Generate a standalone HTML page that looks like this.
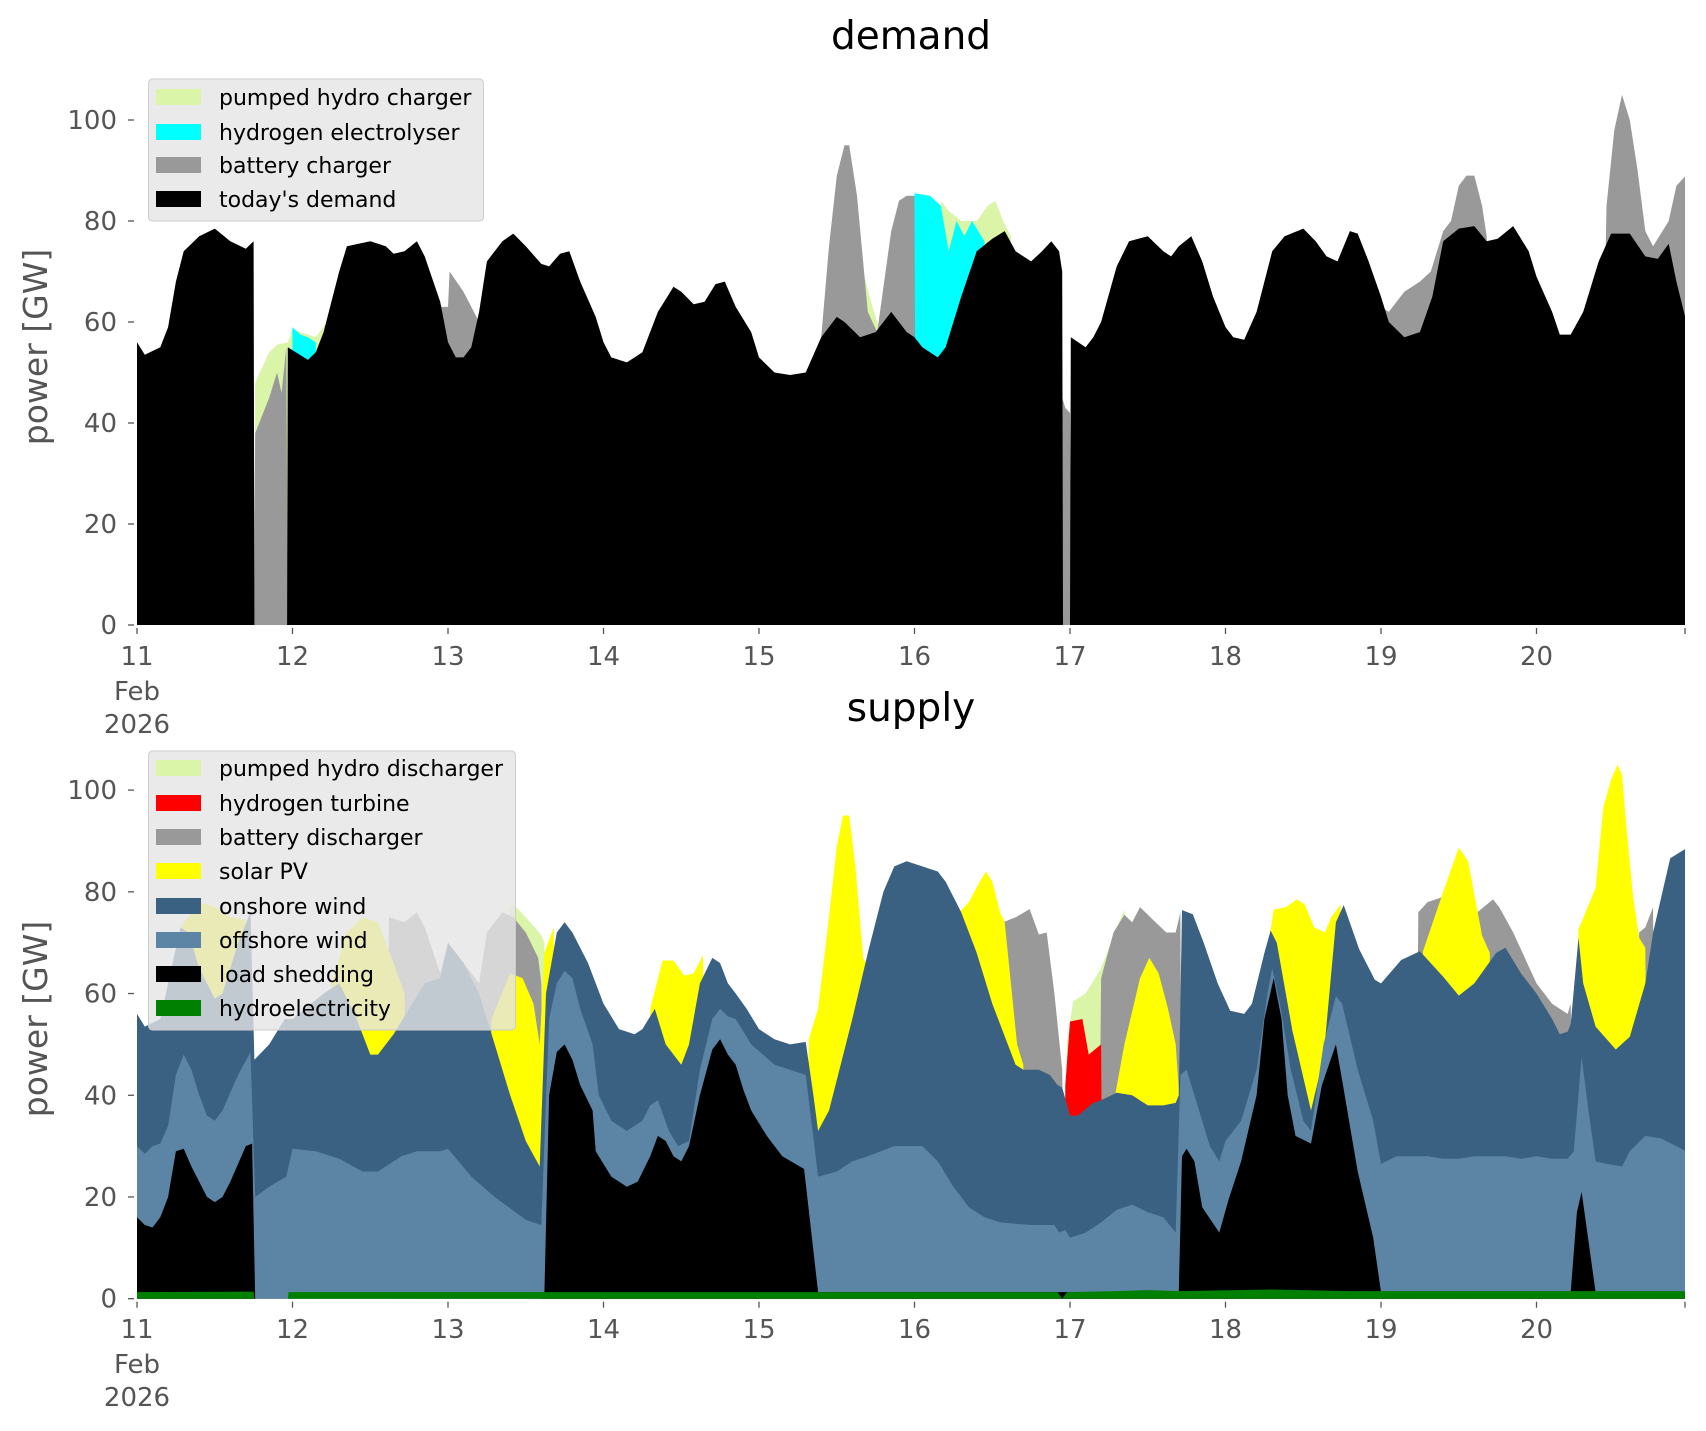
<!DOCTYPE html>
<html><head><meta charset="utf-8"><style>
html,body{margin:0;padding:0;background:#fff;}
svg{display:block;font-family:"DejaVu Sans","Liberation Sans",sans-serif;}
</style></head><body>
<svg id="s" width="1706" height="1431" viewBox="0 0 1706 1431" xmlns="http://www.w3.org/2000/svg">
<defs>
<clipPath id="c1"><rect x="137" y="60" width="1548" height="565.5"/></clipPath>
<clipPath id="c2"><rect x="137" y="730" width="1548" height="569"/></clipPath>
</defs>
<g id="top" clip-path="url(#c1)"></g>
<g id="bot" clip-path="url(#c2)"></g>
<g id="axes" fill="#555" font-size="26"></g>
<text x="911" y="49" font-size="39" text-anchor="middle" fill="#000">demand</text>
<text x="911" y="721" font-size="39" text-anchor="middle" fill="#000">supply</text>
<text transform="translate(47,347) rotate(-90)" font-size="33" text-anchor="middle" fill="#555">power [GW]</text>
<text transform="translate(47,1019) rotate(-90)" font-size="33" text-anchor="middle" fill="#555">power [GW]</text>
<g font-size="22" fill="#000">
<rect x="148.5" y="79" width="335" height="142" rx="4" fill="#e5e5e5" fill-opacity="0.8" stroke="#cccccc"/>
<rect x="156" y="89" width="45" height="16" fill="#daf5a8"/><text x="219" y="105">pumped hydro charger</text>
<rect x="156" y="124" width="45" height="16" fill="#00ffff"/><text x="219" y="140">hydrogen electrolyser</text>
<rect x="156" y="157" width="45" height="16" fill="#999999"/><text x="219" y="173">battery charger</text>
<rect x="156" y="191" width="45" height="16" fill="#000000"/><text x="219" y="207">today's demand</text>
<rect x="148.5" y="751" width="367" height="279" rx="4" fill="#e5e5e5" fill-opacity="0.8" stroke="#cccccc"/>
<rect x="156" y="760" width="45" height="16" fill="#daf5a8"/><text x="219" y="776">pumped hydro discharger</text>
<rect x="156" y="795" width="45" height="16" fill="#ff0000"/><text x="219" y="811">hydrogen turbine</text>
<rect x="156" y="829" width="45" height="16" fill="#999999"/><text x="219" y="845">battery discharger</text>
<rect x="156" y="863" width="45" height="16" fill="#ffff00"/><text x="219" y="879">solar PV</text>
<rect x="156" y="898" width="45" height="16" fill="#3b6182"/><text x="219" y="914">onshore wind</text>
<rect x="156" y="932" width="45" height="16" fill="#5b84a5"/><text x="219" y="948">offshore wind</text>
<rect x="156" y="966" width="45" height="16" fill="#000000"/><text x="219" y="982">load shedding</text>
<rect x="156" y="1000" width="45" height="16" fill="#008000"/><text x="219" y="1016">hydroelectricity</text>
</g>
</svg>
<script>
var NS="http://www.w3.org/2000/svg";
function X(d){return 137+(d-11)*155.5;}
function parse(a){var r=[];for(var i=0;i<a.length;i+=2)r.push([a[i],a[i+1]]);return r;}
function area(g,arr,y0,k,col){
 var p=parse(arr),s="";
 s+=X(p[0][0]).toFixed(1)+","+y0+" ";
 for(var i=0;i<p.length;i++)s+=X(p[i][0]).toFixed(1)+","+(y0-k*p[i][1]).toFixed(1)+" ";
 s+=X(p[p.length-1][0]).toFixed(1)+","+y0;
 var e=document.createElementNS(NS,"polygon");e.setAttribute("points",s);e.setAttribute("fill",col);
 document.getElementById(g).appendChild(e);
}
// TOP
var ty0=625,tk=5.05;
var PH=[11.755,0,11.76,48,11.85,54,11.9,55.5,11.97,56,12.0,58.5,12.15,57,12.22,60,12.23,0, 15.66,0,15.67,70,15.72,64,15.78,58,15.8,0, 16.15,0,16.17,84,16.22,82,16.3,80,16.4,80,16.47,83,16.52,84,16.57,80,16.62,77,16.63,0];
var CY=[11.99,0,12.0,59,12.05,57.5,12.1,57,12.15,56,12.17,0, 15.99,0,16.0,85.5,16.1,85,16.17,83,16.22,74,16.27,80,16.32,77,16.37,80,16.45,76,16.46,0];
var GT=[11.75,0,11.76,38,11.85,45,11.9,50,11.93,46,11.96,55,11.97,0, 12.9,0,12.93,63,13.0,63,13.01,70,13.1,66,13.2,60,13.23,0, 15.38,0,15.4,57,15.45,75,15.5,89,15.55,95,15.58,95,15.63,85,15.7,62,15.76,58,15.85,78,15.9,84,15.95,85,16.0,85,16.01,0, 16.93,0,16.95,45,16.97,43,17.0,42,17.01,0, 18.98,0,19.0,63,19.05,62,19.15,66,19.25,68,19.32,70,19.4,78,19.45,80,19.5,87,19.55,89,19.6,89,19.65,83,19.68,77,19.7,0, 20.4,0,20.45,83,20.5,98,20.55,105,20.6,100,20.65,90,20.7,78,20.75,75,20.85,80,20.9,87,20.96,89];
var D=[11.0,56,11.05,53.5,11.15,55,11.2,59,11.25,68,11.3,74,11.4,77,11.5,78.5,11.6,76,11.7,74.5,11.75,76,11.755,0,11.965,0,11.97,55,12.1,52.5,12.15,54,12.2,58,12.3,70,12.35,75,12.5,76,12.6,75,12.65,73.5,12.72,74,12.8,76,12.85,73,12.95,64,13.0,56,13.05,53,13.1,53,13.15,55,13.2,62,13.25,72,13.35,76,13.42,77.5,13.5,75,13.6,71.5,13.65,71,13.72,73.5,13.78,74,13.85,68,13.95,61,14.0,56,14.05,53,14.15,52,14.25,54,14.35,62,14.45,67,14.5,66,14.58,63.5,14.65,64,14.72,67.5,14.78,68,14.85,63,14.95,58,15.0,53,15.1,50,15.2,49.5,15.3,50,15.4,57,15.5,61,15.55,60,15.65,57,15.75,58,15.85,62,15.95,58,16.0,57,16.05,55,16.15,53,16.2,55,16.3,65,16.4,74,16.5,76.5,16.58,78,16.65,74,16.75,72,16.82,74,16.88,76,16.93,74,16.95,70,16.955,0,17.0,0,17.005,57,17.1,55,17.15,57,17.2,60,17.3,71,17.38,76,17.5,77,17.6,74,17.65,73,17.7,75,17.78,77,17.85,72,17.92,65,18.0,59,18.05,57,18.12,56.5,18.2,62,18.3,74,18.38,77,18.5,78.5,18.58,76,18.65,73,18.72,72,18.8,78,18.85,77.5,18.92,72,19.0,65,19.05,60,19.15,57,19.25,58,19.33,65,19.4,76,19.5,78.5,19.6,79,19.68,76,19.75,76.5,19.85,79,19.95,74,20.0,69,20.1,62,20.15,57.5,20.22,57.5,20.3,62,20.4,72,20.48,77.5,20.6,77.5,20.7,73,20.78,72.5,20.85,75.5,20.9,68,20.96,60.5];
area("top",PH,ty0,tk,"#daf5a8");area("top",CY,ty0,tk,"#00ffff");area("top",GT,ty0,tk,"#999999");area("top",D,ty0,tk,"#000");
// BOTTOM
var by0=1298.7,bk=5.086;
var P=[13.38,0,13.4,77,13.42,77.5,13.5,75,13.6,71.5,13.62,70,13.63,0, 16.97,0,16.98,50,17.02,58.5,17.1,60,17.2,65,17.3,73,17.35,76.5,17.36,0];
var G=[12.6,0,12.62,75,12.72,74,12.8,76,12.85,73,12.95,64,13.0,70,13.1,66,13.2,62,13.25,72,13.35,76,13.42,75,13.5,72,13.58,67,13.6,62,13.62,0, 16.55,0,16.57,74,16.65,75,16.74,76.6,16.8,71.6,16.85,72,16.9,60,16.95,45,16.97,0, 17.18,0,17.2,63,17.28,72,17.35,75.5,17.4,74,17.45,77,17.55,74,17.62,72,17.68,72,17.71,76,17.72,0, 19.22,0,19.24,76,19.3,78,19.4,79,19.45,0, 19.6,0,19.62,76,19.72,78.5,19.76,77,19.85,72,20.0,62,20.1,58,20.2,56,20.22,58,20.25,0, 20.64,0,20.66,72,20.7,73,20.75,77,20.76,0];
var R=[16.96,0,16.97,42,17.0,54.5,17.08,55,17.12,48,17.2,50,17.21,0];
var Y=[11.25,0,11.28,73,11.4,78,11.5,77,11.6,75,11.7,74.5,11.72,0, 12.22,0,12.25,62,12.35,72,12.45,75,12.55,74,12.65,66,12.72,60,12.75,0, 13.25,0,13.28,55,13.4,64,13.48,63,13.55,58,13.59,50,13.62,68,13.68,73,13.7,0, 14.28,0,14.3,57,14.38,66.5,14.45,66.5,14.52,63.5,14.58,64,14.64,67.5,14.66,0, 15.3,0,15.32,51,15.38,57,15.45,75,15.5,89,15.54,95,15.58,95,15.62,85,15.67,67,15.72,64,15.78,63,15.82,70,15.85,0, 16.27,0,16.29,76,16.35,78,16.42,82,16.46,84,16.5,82,16.55,76,16.58,74,16.62,62,16.66,50,16.7,46,16.72,0, 17.28,0,17.29,40,17.35,50,17.45,63,17.51,67,17.57,64,17.63,57,17.68,50,17.7,41,17.71,0, 18.27,0,18.29,72.4,18.31,76.5,18.39,77,18.46,78.5,18.51,77.5,18.57,73,18.64,72,18.68,75,18.74,77.5,18.75,0, 19.26,0,19.27,68.3,19.4,80,19.5,88.7,19.56,86,19.65,71.4,19.7,68,19.72,0, 20.25,0,20.27,72.6,20.38,80.8,20.43,96.7,20.48,102,20.52,105,20.55,103,20.58,92,20.62,79.4,20.66,71,20.7,69,20.72,0];
var W=[11.0,56,11.05,53.5,11.15,55,11.2,62,11.28,73,11.33,72,11.4,65,11.5,59,11.55,60,11.65,70,11.73,76,11.755,47,11.85,50,11.95,55,12.0,55,12.2,60,12.3,62,12.4,56,12.45,52,12.5,48,12.55,48,12.65,52,12.75,57,12.85,62,12.95,63,13.0,70,13.1,66,13.2,60,13.3,50,13.4,40,13.5,31,13.59,26,13.63,60,13.7,72,13.75,74,13.8,72,13.9,66,14.0,58,14.1,53,14.2,52,14.25,53,14.33,57,14.4,50,14.5,46,14.55,50,14.62,62,14.7,67,14.75,66,14.8,62,14.85,60,14.92,57,15.0,53,15.1,51,15.2,50,15.3,50.5,15.35,40,15.38,33,15.45,37,15.5,43,15.6,55,15.7,68,15.8,80,15.87,85,15.95,86,16.05,85,16.15,84,16.2,82,16.25,79,16.3,76,16.4,68,16.5,58,16.6,50,16.65,46,16.7,45,16.8,45,16.87,44,16.92,42,16.95,41.5,17.0,36,17.05,36,17.15,38.5,17.2,39,17.3,40.5,17.4,40,17.5,38,17.6,38,17.68,38.5,17.7,40,17.72,76.4,17.79,75.6,17.86,70,17.95,62,18.03,56.6,18.12,56,18.17,58,18.25,68,18.29,72.4,18.33,70,18.43,52.7,18.55,37,18.63,47.4,18.71,74,18.76,77.4,18.86,68.7,18.96,62.7,19.0,62,19.13,66.6,19.25,68.3,19.4,63.3,19.5,59.6,19.6,62,19.74,68,19.8,69,19.9,64,20.0,60,20.1,55,20.15,52,20.2,52.5,20.22,54,20.27,71,20.3,62,20.38,53.5,20.51,49,20.6,51.5,20.7,62,20.75,72,20.86,86.6,20.96,88.5];
var O=[11.0,30,11.05,28.5,11.1,30,11.15,30.5,11.2,34,11.25,44,11.3,48,11.35,45,11.4,40,11.45,36,11.5,35,11.55,37,11.65,44,11.73,48.5,11.76,20,11.85,22,11.96,24,12.0,29.5,12.15,29,12.3,27.5,12.45,25,12.55,25,12.7,28,12.8,29,12.95,29,13.0,29.5,13.15,24,13.3,20,13.5,15.5,13.6,14.5,13.65,55,13.7,62,13.75,64.5,13.8,63,13.85,57,13.93,50,13.97,40,14.05,35,14.15,33,14.25,35,14.3,38,14.35,39,14.42,33,14.48,30,14.55,31,14.62,45,14.7,55,14.75,57,14.8,55.5,14.85,55,14.95,50,15.1,46,15.3,44,15.38,24,15.5,25,15.6,27,15.7,28,15.87,30,16.05,30,16.15,27,16.25,22,16.35,18,16.45,16,16.55,15,16.75,14.5,16.9,14.5,16.93,13,16.97,13.5,17.0,12,17.1,13,17.2,15,17.3,17.5,17.4,18.5,17.5,17,17.6,16,17.68,13,17.71,44,17.75,45,17.8,40,17.9,30,17.96,27,18.0,31,18.1,35,18.2,45,18.27,60,18.3,65,18.35,58,18.42,45,18.5,35,18.55,33,18.63,50,18.71,59.5,18.75,58,18.85,45,18.95,35,19.0,26.5,19.1,28,19.3,28,19.4,27.5,19.5,27.5,19.6,28,19.8,28,19.9,27.5,20.0,28,20.1,27.5,20.2,27.5,20.24,29,20.29,47.5,20.33,38,20.38,27,20.45,26.5,20.55,26,20.6,29,20.7,32,20.8,31.5,20.9,30,20.96,29];
var S=[11.0,16,11.05,14.5,11.1,14,11.15,16,11.2,20,11.25,29,11.3,29.5,11.35,26,11.45,20,11.5,19,11.55,20,11.6,23,11.7,30,11.74,30.5,11.76,0,13.6,0,13.62,1,13.65,40,13.7,48.5,13.75,50,13.8,47,13.85,42,13.93,37,13.95,29,14.05,24,14.15,22,14.22,23,14.3,28,14.35,32,14.4,31,14.45,28,14.5,27,14.55,30,14.62,40,14.7,49,14.75,51,14.8,48,14.85,46,14.9,41,14.95,37,15.05,32,15.15,28,15.29,25.5,15.38,1.3,17.7,1.3,17.72,28,17.75,29.5,17.8,27,17.85,18,17.96,13,18.02,19.5,18.1,27,18.2,40,18.25,55,18.31,63,18.36,55,18.4,40,18.45,32,18.55,30.5,18.62,42,18.71,50,18.75,43,18.85,25,18.95,12,19.0,1.3,20.22,1.3,20.26,17,20.29,21,20.38,1.3,20.96,1.3];
var H=[11.0,1.3,11.75,1.4,11.755,0,11.97,0,11.975,1.3,16.92,1.3,16.95,0,16.98,1.3,17.3,1.5,17.5,1.7,17.7,1.5,18.3,1.8,18.8,1.5,20.96,1.5];
area("bot",P,by0,bk,"#daf5a8");area("bot",G,by0,bk,"#999999");area("bot",R,by0,bk,"#ff0000");
area("bot",Y,by0,bk,"#ffff00");area("bot",W,by0,bk,"#3b6182");area("bot",O,by0,bk,"#5b84a5");
area("bot",S,by0,bk,"#000");area("bot",H,by0,bk,"#008000");
// axes
var ax=document.getElementById("axes"),h="";
function yt(y0,k){for(var v=0;v<=100;v+=20){var y=y0-k*v;h+='<line x1="128" x2="134" y1="'+y+'" y2="'+y+'" stroke="#555" stroke-width="1.3"/>';h+='<text x="117" y="'+(y+9)+'" text-anchor="end">'+v+'</text>';}}
yt(ty0,tk);yt(by0,bk);
function xt(yb,ly){for(var d=11;d<=20;d++){var x=X(d);h+='<line x1="'+x+'" x2="'+x+'" y1="'+(yb+3)+'" y2="'+(yb+9)+'" stroke="#555" stroke-width="1.3"/>';h+='<text x="'+x+'" y="'+ly+'" text-anchor="middle">'+d+'</text>';}
 h+='<line x1="1685" x2="1685" y1="'+(yb+3)+'" y2="'+(yb+9)+'" stroke="#555" stroke-width="1.3"/>';
 h+='<text x="'+X(11)+'" y="'+(ly+35)+'" text-anchor="middle">Feb</text><text x="'+X(11)+'" y="'+(ly+68)+'" text-anchor="middle">2026</text>';}
xt(625,665);xt(1298.7,1338);
ax.innerHTML=h;
</script>
</body></html>
